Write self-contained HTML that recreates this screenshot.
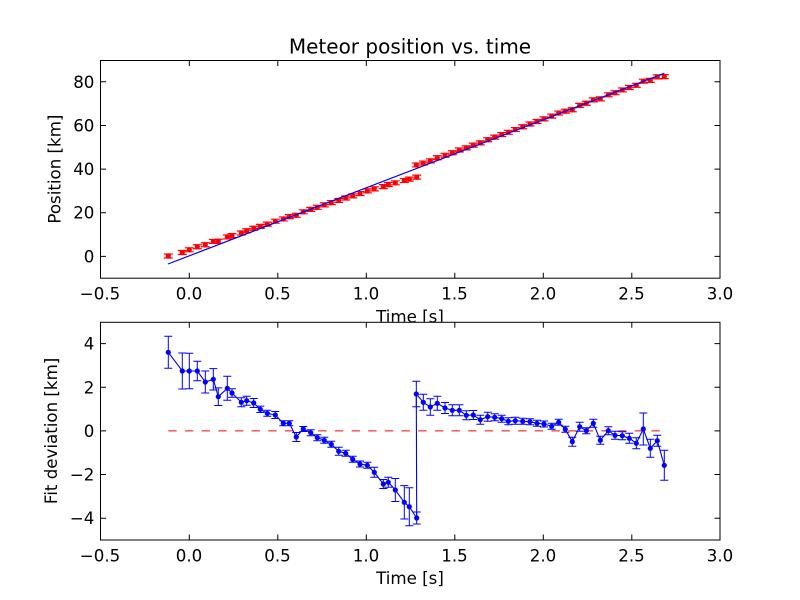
<!DOCTYPE html>
<html>
<head>
<meta charset="utf-8">
<style>
html,body{margin:0;padding:0;background:#fff;}
svg{display:block;}
text{font-family:"DejaVu Sans","Liberation Sans",sans-serif;fill:#000;}
</style>
</head>
<body>
<svg width="800" height="600" viewBox="0 0 800 600" xmlns="http://www.w3.org/2000/svg">
<defs>
<g id="rm"><path d="M-4.5 -2H4.5M-4.5 2H4.5M0 -2V2" stroke="#ff0000" stroke-width="1.2" fill="none"/><circle r="2.6" fill="#ff0000"/></g>
<circle id="bm" r="2.6" fill="#0000ff"/>
</defs>
<rect width="800" height="600" fill="#fff"/>

<text x="410" y="53.6" font-size="20" text-anchor="middle">Meteor position vs. time</text>
<rect x="100" y="60" width="620" height="218.2" fill="#fff"/>
<g>
<use href="#rm" x="168.3" y="256.02"/><use href="#rm" x="182.3" y="252.52"/><use href="#rm" x="189.3" y="249.83"/><use href="#rm" x="197.3" y="246.75"/><use href="#rm" x="205.3" y="244.78"/><use href="#rm" x="213.3" y="241.44"/><use href="#rm" x="218.3" y="241.25"/><use href="#rm" x="227.3" y="236.96"/><use href="#rm" x="232" y="235.62"/><use href="#rm" x="241.3" y="232.98"/><use href="#rm" x="246.7" y="230.74"/><use href="#rm" x="253.7" y="228.28"/><use href="#rm" x="260.3" y="226.38"/><use href="#rm" x="267.3" y="224.09"/><use href="#rm" x="275.3" y="221.19"/><use href="#rm" x="283.3" y="218.94"/><use href="#rm" x="289.3" y="216.64"/><use href="#rm" x="296.3" y="215.32"/><use href="#rm" x="303.3" y="211.83"/><use href="#rm" x="310.7" y="209.35"/><use href="#rm" x="317.3" y="207.32"/><use href="#rm" x="324.3" y="204.89"/><use href="#rm" x="331.3" y="202.6"/><use href="#rm" x="338.7" y="200.46"/><use href="#rm" x="345.7" y="197.97"/><use href="#rm" x="352.7" y="195.88"/><use href="#rm" x="360" y="193.54"/><use href="#rm" x="367.3" y="190.87"/><use href="#rm" x="374.3" y="188.88"/><use href="#rm" x="383.3" y="186.59"/><use href="#rm" x="388.3" y="184.5"/><use href="#rm" x="395.3" y="182.8"/><use href="#rm" x="404.3" y="180.57"/><use href="#rm" x="409.3" y="179.09"/><use href="#rm" x="416.7" y="177.16"/>
<use href="#rm" x="416.3" y="164.92"/><use href="#rm" x="423.3" y="163.06"/><use href="#rm" x="430.3" y="160.84"/><use href="#rm" x="437.3" y="157.78"/><use href="#rm" x="445" y="155.29"/><use href="#rm" x="452.3" y="152.72"/><use href="#rm" x="459.3" y="150.03"/><use href="#rm" x="466.3" y="147.84"/><use href="#rm" x="473.3" y="145.12"/><use href="#rm" x="480.3" y="142.9"/><use href="#rm" x="487.7" y="139.75"/><use href="#rm" x="494.7" y="137.12"/><use href="#rm" x="501.7" y="134.57"/><use href="#rm" x="508.3" y="132.3"/><use href="#rm" x="515.3" y="129.55"/><use href="#rm" x="522.7" y="126.77"/><use href="#rm" x="530" y="124"/><use href="#rm" x="537" y="121.47"/><use href="#rm" x="544" y="118.85"/><use href="#rm" x="551.7" y="116.13"/><use href="#rm" x="558.7" y="113.04"/><use href="#rm" x="565.3" y="111.2"/><use href="#rm" x="572.3" y="109.75"/><use href="#rm" x="579.7" y="105.41"/><use href="#rm" x="586.3" y="103.27"/><use href="#rm" x="593.3" y="99.84"/><use href="#rm" x="600.3" y="98.85"/><use href="#rm" x="608.3" y="94.82"/><use href="#rm" x="615" y="92.71"/><use href="#rm" x="622.3" y="89.94"/><use href="#rm" x="629.3" y="87.51"/><use href="#rm" x="636.3" y="85.32"/><use href="#rm" x="643.3" y="81.2"/><use href="#rm" x="650.3" y="80.34"/><use href="#rm" x="657.3" y="76.89"/><use href="#rm" x="664.3" y="76.66"/>
</g>
<line x1="168" y1="264" x2="664.3" y2="73.3" stroke="#0000ff" stroke-width="1.2"/>
<rect x="100.5" y="60.5" width="619.5" height="217.7" fill="none" stroke="#000" stroke-width="1"/>
<path d="M189.3 278.2v-5.5M277.8 278.2v-5.5M366.3 278.2v-5.5M454.8 278.2v-5.5M543.3 278.2v-5.5M631.8 278.2v-5.5M189.3 60.5v5.5M277.8 60.5v5.5M366.3 60.5v5.5M454.8 60.5v5.5M543.3 60.5v5.5M631.8 60.5v5.5M100.5 256.4h5.5M100.5 212.7h5.5M100.5 169.1h5.5M100.5 125.5h5.5M100.5 81.8h5.5M720 256.4h-5.5M720 212.7h-5.5M720 169.1h-5.5M720 125.5h-5.5M720 81.8h-5.5" stroke="#000" stroke-width="1" fill="none"/>
<g font-size="16.67" text-anchor="middle">
<text x="100" y="299.5">−0.5</text><text x="189" y="299.5">0.0</text><text x="277.5" y="299.5">0.5</text><text x="366" y="299.5">1.0</text><text x="454.5" y="299.5">1.5</text><text x="543" y="299.5">2.0</text><text x="631.5" y="299.5">2.5</text><text x="720" y="299.5">3.0</text>
</g>
<g font-size="16.67" text-anchor="end">
<text x="94.4" y="262.4">0</text><text x="94.4" y="218.7">20</text><text x="94.4" y="175.1">40</text><text x="94.4" y="131.5">60</text><text x="94.4" y="87.8">80</text>
</g>
<text font-size="16.67" text-anchor="middle" transform="translate(60.5,169.1) rotate(-90)">Position [km]</text>
<text x="410" y="322.5" font-size="16.67" text-anchor="middle">Time [s]</text>

<rect x="100" y="321.8" width="620" height="218.2" fill="#fff"/>
<line x1="168.3" y1="430.9" x2="664.3" y2="430.9" stroke="#ff0000" stroke-width="1" stroke-dasharray="8.33 8.33"/>
<path stroke="#0000ff" stroke-width="1" fill="none" d="M168.3 336.3V368.3M164.3 336.3H172.3M164.3 368.3H172.3M182.3 353V389M178.3 353H186.3M178.3 389H186.3M189.3 353.3V388.7M185.3 353.3H193.3M185.3 388.7H193.3M197.3 361.3V380.7M193.3 361.3H201.3M193.3 380.7H201.3M205.3 371V393M201.3 371H209.3M201.3 393H209.3M213.3 368.6V390M209.3 368.6H217.3M209.3 390H217.3M218.3 387.9V405.5M214.3 387.9H222.3M214.3 405.5H222.3M227.3 376.3V400.3M223.3 376.3H231.3M223.3 400.3H231.3M232 388.8V397.2M228 388.8H236M228 397.2H236M241.3 397.8V406.8M237.3 397.8H245.3M237.3 406.8H245.3M246.7 396.2V405.2M242.7 396.2H250.7M242.7 405.2H250.7M253.7 398.5V407.5M249.7 398.5H257.7M249.7 407.5H257.7M260.3 406.1V412.5M256.3 406.1H264.3M256.3 412.5H264.3M267.3 410.3V416.3M263.3 410.3H271.3M263.3 416.3H271.3M275.3 411.5V418.5M271.3 411.5H279.3M271.3 418.5H279.3M283.3 420.8V425.8M279.3 420.8H287.3M279.3 425.8H287.3M289.3 420.8V425.8M285.3 420.8H293.3M285.3 425.8H293.3M296.3 432.5V441.5M292.3 432.5H300.3M292.3 441.5H300.3M303.3 426.5V431.5M299.3 426.5H307.3M299.3 431.5H307.3M310.7 429.7V435.7M306.7 429.7H314.7M306.7 435.7H314.7M317.3 434.7V440.7M313.3 434.7H321.3M313.3 440.7H321.3M324.3 437.3V443.3M320.3 437.3H328.3M320.3 443.3H328.3M331.3 441.3V447.3M327.3 441.3H335.3M327.3 447.3H335.3M338.7 447.3V455.3M334.7 447.3H342.7M334.7 455.3H342.7M345.7 450.3V456.3M341.7 450.3H349.7M341.7 456.3H349.7M352.7 456.3V462.3M348.7 456.3H356.7M348.7 462.3H356.7M360 461V467M356 461H364M356 467H364M367.3 462.3V468.3M363.3 462.3H371.3M363.3 468.3H371.3M374.3 467.3V477.3M370.3 467.3H378.3M370.3 477.3H378.3M383.3 479.5V488.5M379.3 479.5H387.3M379.3 488.5H387.3M388.3 477.3V487.3M384.3 477.3H392.3M384.3 487.3H392.3M395.3 478.5V501.5M391.3 478.5H399.3M391.3 501.5H399.3M404.3 485.6V519M400.3 485.6H408.3M400.3 519H408.3M409.3 487.7V525.7M405.3 487.7H413.3M405.3 525.7H413.3M416.7 512V524M412.7 512H420.7M412.7 524H420.7M416.3 381.2V406.8M412.3 381.2H420.3M412.3 406.8H420.3M423.3 394.3V410.3M419.3 394.3H427.3M419.3 410.3H427.3M430.3 398.7V415.3M426.3 398.7H434.3M426.3 415.3H434.3M437.3 396.3V410.3M433.3 396.3H441.3M433.3 410.3H441.3M445 402.5V413.5M441 402.5H449M441 413.5H449M452.3 404.8V415.8M448.3 404.8H456.3M448.3 415.8H456.3M459.3 404.8V415.8M455.3 404.8H463.3M455.3 415.8H463.3M466.3 410.8V419.8M462.3 410.8H470.3M462.3 419.8H470.3M473.3 410.5V419.5M469.3 410.5H477.3M469.3 419.5H477.3M480.3 415.2V424.2M476.3 415.2H484.3M476.3 424.2H484.3M487.7 412.2V421.2M483.7 412.2H491.7M483.7 421.2H491.7M494.7 413.8V420.8M490.7 413.8H498.7M490.7 420.8H498.7M501.7 415.2V422.2M497.7 415.2H505.7M497.7 422.2H505.7M508.3 417.8V424.8M504.3 417.8H512.3M504.3 424.8H512.3M515.3 417.2V424.2M511.3 417.2H519.3M511.3 424.2H519.3M522.7 418.3V424.3M518.7 418.3H526.7M518.7 424.3H526.7M530 418.7V424.7M526 418.7H534M526 424.7H534M537 420.3V426.3M533 420.3H541M533 426.3H541M544 421V427M540 421H548M540 427H548M551.7 423.3V429.3M547.7 423.3H555.7M547.7 429.3H555.7M558.7 419.3V425.3M554.7 419.3H562.7M554.7 425.3H562.7M565.3 426.3V432.3M561.3 426.3H569.3M561.3 432.3H569.3M572.3 437.2V446.2M568.3 437.2H576.3M568.3 446.2H576.3M579.7 422.2V431.2M575.7 422.2H583.7M575.7 431.2H583.7M586.3 427.7V433.7M582.3 427.7H590.3M582.3 433.7H590.3M593.3 419.3V427.3M589.3 419.3H597.3M589.3 427.3H597.3M600.3 436.3V444.3M596.3 436.3H604.3M596.3 444.3H604.3M608.3 426.7V434.7M604.3 426.7H612.3M604.3 434.7H612.3M615 431.3V439.3M611 431.3H619M611 439.3H619M622.3 431.7V439.7M618.3 431.7H626.3M618.3 439.7H626.3M629.3 433.3V443.3M625.3 433.3H633.3M625.3 443.3H633.3M636.3 437.8V448.8M632.3 437.8H640.3M632.3 448.8H640.3M643.3 413V445M639.3 413H647.3M639.3 445H647.3M650.3 439.3V457.3M646.3 439.3H654.3M646.3 457.3H654.3M657.3 435.2V446.2M653.3 435.2H661.3M653.3 446.2H661.3M664.3 450.3V480.3M660.3 450.3H668.3M660.3 480.3H668.3"/>
<polyline fill="none" stroke="#0000ff" stroke-width="1.1" points="168.3,352.3 182.3,371 189.3,371 197.3,371 205.3,382 213.3,379.3 218.3,396.7 227.3,388.3 232,393 241.3,402.3 246.7,400.7 253.7,403 260.3,409.3 267.3,413.3 275.3,415 283.3,423.3 289.3,423.3 296.3,437 303.3,429 310.7,432.7 317.3,437.7 324.3,440.3 331.3,444.3 338.7,451.3 345.7,453.3 352.7,459.3 360,464 367.3,465.3 374.3,472.3 383.3,484 388.3,482.3 395.3,490 404.3,502.3 409.3,506.7 416.7,518 416.3,394 423.3,402.3 430.3,407 437.3,403.3 445,408 452.3,410.3 459.3,410.3 466.3,415.3 473.3,415 480.3,419.7 487.7,416.7 494.7,417.3 501.7,418.7 508.3,421.3 515.3,420.7 522.7,421.3 530,421.7 537,423.3 544,424 551.7,426.3 558.7,422.3 565.3,429.3 572.3,441.7 579.7,426.7 586.3,430.7 593.3,423.3 600.3,440.3 608.3,430.7 615,435.3 622.3,435.7 629.3,438.3 636.3,443.3 643.3,429 650.3,448.3 657.3,440.7 664.3,465.3"/>
<g>
<use href="#bm" x="168.3" y="352.3"/><use href="#bm" x="182.3" y="371"/><use href="#bm" x="189.3" y="371"/><use href="#bm" x="197.3" y="371"/><use href="#bm" x="205.3" y="382"/><use href="#bm" x="213.3" y="379.3"/><use href="#bm" x="218.3" y="396.7"/><use href="#bm" x="227.3" y="388.3"/><use href="#bm" x="232" y="393"/><use href="#bm" x="241.3" y="402.3"/><use href="#bm" x="246.7" y="400.7"/><use href="#bm" x="253.7" y="403"/><use href="#bm" x="260.3" y="409.3"/><use href="#bm" x="267.3" y="413.3"/><use href="#bm" x="275.3" y="415"/><use href="#bm" x="283.3" y="423.3"/><use href="#bm" x="289.3" y="423.3"/><use href="#bm" x="296.3" y="437"/><use href="#bm" x="303.3" y="429"/><use href="#bm" x="310.7" y="432.7"/><use href="#bm" x="317.3" y="437.7"/><use href="#bm" x="324.3" y="440.3"/><use href="#bm" x="331.3" y="444.3"/><use href="#bm" x="338.7" y="451.3"/><use href="#bm" x="345.7" y="453.3"/><use href="#bm" x="352.7" y="459.3"/><use href="#bm" x="360" y="464"/><use href="#bm" x="367.3" y="465.3"/><use href="#bm" x="374.3" y="472.3"/><use href="#bm" x="383.3" y="484"/><use href="#bm" x="388.3" y="482.3"/><use href="#bm" x="395.3" y="490"/><use href="#bm" x="404.3" y="502.3"/><use href="#bm" x="409.3" y="506.7"/><use href="#bm" x="416.7" y="518"/>
<use href="#bm" x="416.3" y="394"/><use href="#bm" x="423.3" y="402.3"/><use href="#bm" x="430.3" y="407"/><use href="#bm" x="437.3" y="403.3"/><use href="#bm" x="445" y="408"/><use href="#bm" x="452.3" y="410.3"/><use href="#bm" x="459.3" y="410.3"/><use href="#bm" x="466.3" y="415.3"/><use href="#bm" x="473.3" y="415"/><use href="#bm" x="480.3" y="419.7"/><use href="#bm" x="487.7" y="416.7"/><use href="#bm" x="494.7" y="417.3"/><use href="#bm" x="501.7" y="418.7"/><use href="#bm" x="508.3" y="421.3"/><use href="#bm" x="515.3" y="420.7"/><use href="#bm" x="522.7" y="421.3"/><use href="#bm" x="530" y="421.7"/><use href="#bm" x="537" y="423.3"/><use href="#bm" x="544" y="424"/><use href="#bm" x="551.7" y="426.3"/><use href="#bm" x="558.7" y="422.3"/><use href="#bm" x="565.3" y="429.3"/><use href="#bm" x="572.3" y="441.7"/><use href="#bm" x="579.7" y="426.7"/><use href="#bm" x="586.3" y="430.7"/><use href="#bm" x="593.3" y="423.3"/><use href="#bm" x="600.3" y="440.3"/><use href="#bm" x="608.3" y="430.7"/><use href="#bm" x="615" y="435.3"/><use href="#bm" x="622.3" y="435.7"/><use href="#bm" x="629.3" y="438.3"/><use href="#bm" x="636.3" y="443.3"/><use href="#bm" x="643.3" y="429"/><use href="#bm" x="650.3" y="448.3"/><use href="#bm" x="657.3" y="440.7"/><use href="#bm" x="664.3" y="465.3"/>
</g>
<rect x="100.5" y="322.3" width="619.5" height="217.7" fill="none" stroke="#000" stroke-width="1"/>
<path d="M189.3 540v-5.5M277.8 540v-5.5M366.3 540v-5.5M454.8 540v-5.5M543.3 540v-5.5M631.8 540v-5.5M189.3 322.3v5.5M277.8 322.3v5.5M366.3 322.3v5.5M454.8 322.3v5.5M543.3 322.3v5.5M631.8 322.3v5.5M100.5 343.6h5.5M100.5 387.3h5.5M100.5 430.9h5.5M100.5 474.5h5.5M100.5 518.2h5.5M720 343.6h-5.5M720 387.3h-5.5M720 430.9h-5.5M720 474.5h-5.5M720 518.2h-5.5" stroke="#000" stroke-width="1" fill="none"/>
<g font-size="16.67" text-anchor="middle">
<text x="100" y="561.3">−0.5</text><text x="189" y="561.3">0.0</text><text x="277.5" y="561.3">0.5</text><text x="366" y="561.3">1.0</text><text x="454.5" y="561.3">1.5</text><text x="543" y="561.3">2.0</text><text x="631.5" y="561.3">2.5</text><text x="720" y="561.3">3.0</text>
</g>
<g font-size="16.67" text-anchor="end">
<text x="94.4" y="349.6">4</text><text x="94.4" y="393.3">2</text><text x="94.4" y="436.9">0</text><text x="94.4" y="480.5">−2</text><text x="94.4" y="524.2">−4</text>
</g>
<text font-size="16.67" text-anchor="middle" transform="translate(57.2,430.9) rotate(-90)">Fit deviation [km]</text>
<text x="410" y="584.1" font-size="16.67" text-anchor="middle">Time [s]</text>
</svg>
</body>
</html>
